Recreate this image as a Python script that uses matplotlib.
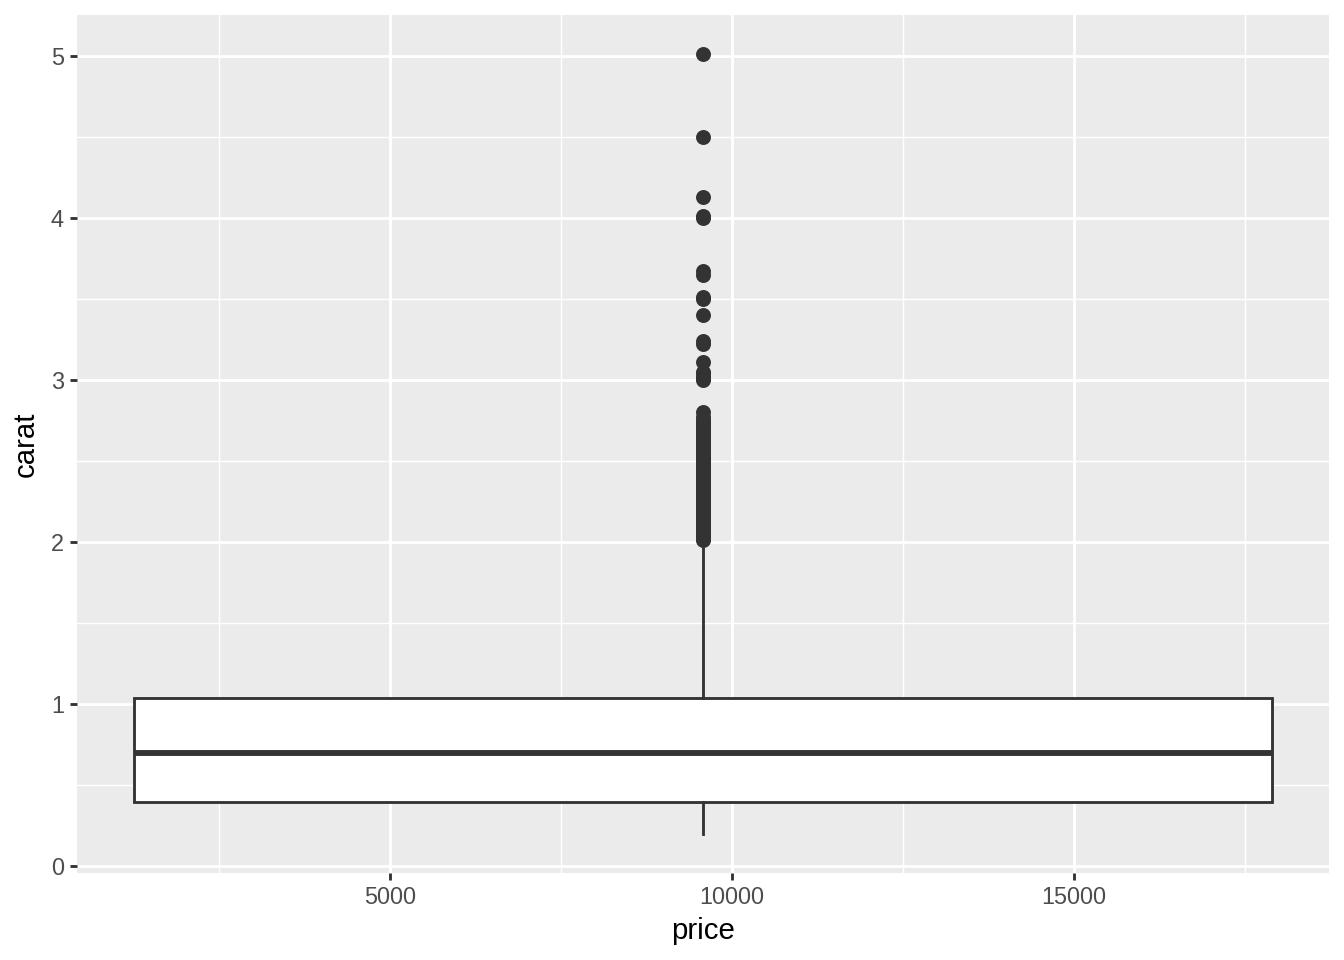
import numpy as np
import matplotlib.pyplot as plt

# diamonds: price range and carat box statistics
price_min, price_max = 326, 18823
carat_low_whisker = 0.20
carat_q1 = 0.40
carat_median = 0.70
carat_q3 = 1.04
carat_high_whisker = 2.00
carat_outliers = [2.01, 2.02, 2.03, 2.04, 2.05, 2.06, 2.07, 2.08, 2.09, 2.10,
                  2.11, 2.12, 2.13, 2.14, 2.15, 2.16, 2.17, 2.18, 2.19, 2.20,
                  2.21, 2.22, 2.23, 2.24, 2.25, 2.26, 2.27, 2.28, 2.29, 2.30,
                  2.31, 2.32, 2.33, 2.34, 2.35, 2.36, 2.37, 2.38, 2.39, 2.40,
                  2.41, 2.42, 2.43, 2.44, 2.45, 2.46, 2.47, 2.48, 2.49, 2.50,
                  2.51, 2.52, 2.53, 2.54, 2.55, 2.56, 2.57, 2.58, 2.59, 2.60,
                  2.61, 2.63, 2.64, 2.65, 2.66, 2.67, 2.68, 2.70, 2.71, 2.72,
                  2.74, 2.75, 2.77, 2.80, 3.00, 3.01, 3.02, 3.04, 3.05, 3.11,
                  3.22, 3.24, 3.40, 3.50, 3.51, 3.65, 3.67, 4.00, 4.01, 4.13,
                  4.50, 5.01]
x_ticks = [5000, 10000, 15000]
y_ticks = [0, 1, 2, 3, 4, 5]

plt.rcParams['font.family'] = ['Liberation Sans', 'DejaVu Sans']

fig = plt.figure(figsize=(7, 5), dpi=192)
ax = fig.add_axes([77/1344, 1-873/960, (1329-77)/1344, (873-15)/960])
ax.set_facecolor('#EBEBEB')
for s in ax.spines.values():
    s.set_visible(False)

center = (price_min + price_max) / 2
width = 0.9 * (price_max - price_min)

stats = [{'med': carat_median, 'q1': carat_q1, 'q3': carat_q3,
          'whislo': carat_low_whisker, 'whishi': carat_high_whisker,
          'fliers': carat_outliers}]
ax.bxp(stats, positions=[center], widths=[width], patch_artist=True,
       showcaps=False, manage_ticks=False,
       boxprops=dict(facecolor='white', edgecolor='#333333', linewidth=1.07),
       medianprops=dict(color='#333333', linewidth=2.2, solid_capstyle='butt'),
       whiskerprops=dict(color='#333333', linewidth=1.07),
       flierprops=dict(marker='o', markerfacecolor='#333333',
                       markeredgecolor='#333333', markersize=4.6, linestyle='none'),
       zorder=3)

xr = width * 0.05
ax.set_xlim(center - width/2 - xr, center + width/2 + xr)
yr = (max(carat_outliers) - carat_low_whisker) * 0.05
ax.set_ylim(carat_low_whisker - yr, max(carat_outliers) + yr)

ax.set_xticks(x_ticks)
ax.set_xticks([2500, 7500, 12500, 17500], minor=True)
ax.set_yticks(y_ticks)
ax.set_yticks([0.5, 1.5, 2.5, 3.5, 4.5], minor=True)
ax.grid(which='major', color='white', linewidth=1.07)
ax.grid(which='minor', color='white', linewidth=0.53)
ax.set_axisbelow(True)
ax.tick_params(which='major', length=2.75, width=1.07, color='#333333',
               labelcolor='#4D4D4D', labelsize=8.8, pad=2.2)
ax.tick_params(which='minor', length=0)

ax.set_xlabel('price', fontsize=11, labelpad=3)
ax.set_ylabel('carat', fontsize=11, labelpad=4)

fig.savefig('out.png', dpi=192)
